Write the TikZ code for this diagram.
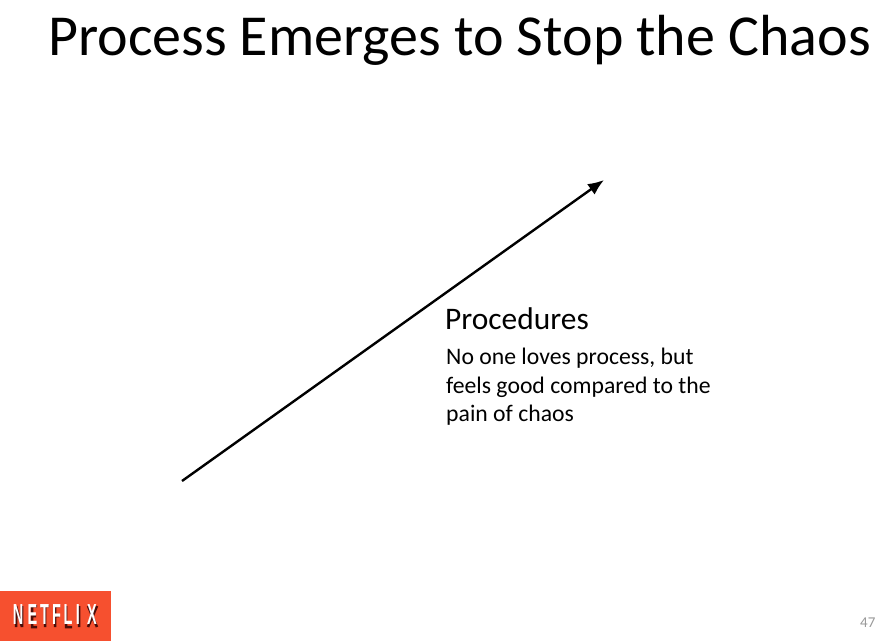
\documentclass[tikz,border=0pt]{standalone}
\usepackage{fontspec}
\setmainfont{Carlito}
\newfontfamily\logofont{Liberation Sans}
\usetikzlibrary{arrows.meta}
\definecolor{logored}{HTML}{F6502F}
\definecolor{logoshade}{HTML}{4A0E0A}
\begin{document}
\begin{tikzpicture}[x=1pt,y=-1pt,
                    main text/.style={anchor=west,inner sep=0pt,align=left},
                    logo letter/.style={inner sep=0pt,text=white,font=\logofont\bfseries\fontsize{29}{29}\selectfont}]
  \useasboundingbox (0,0) rectangle (889,641);
  \fill[white] (0,0) rectangle (889,641);

  \node[main text,font=\fontsize{58}{68}\selectfont] (title) at (48,40) {Process Emerges to Stop the Chaos};

  \coordinate (start) at (182,481);
  \coordinate (end) at (604,180);
  \draw[-{Latex[length=16pt,width=13pt]},line width=2.4pt] (start) -- (end);

  \node[main text,font=\fontsize{31.4}{36}\selectfont] (head) at (445,319) {Procedures};
  \node[main text,anchor=north west,font=\fontsize{23.7}{28.5}\selectfont] (body) at (446,348)
    {No one loves process, but\\feels good compared to the\\pain of chaos};

  \node[fill=logored,minimum width=111pt,minimum height=50pt,inner sep=0pt,anchor=north west] (logo) at (0,591) {};
  % shade of the logo letters
  \draw[logoshade,line width=2.5pt]
    (16,606) -- (16,627) (16,606) -- (22,627) (22,606) -- (22,627)
    (37,606) -- (32,606) -- (32,627) -- (37,627) (32,616) -- (36,616)
    (41,606) -- (49,606) (45,606) -- (45,627)
    (60,606) -- (55,606) -- (55,627) (55,616) -- (59,616)
    (66,606) -- (66,627) -- (72,627)
    (79,606) -- (79,627)
    (88,606) -- (97,627) (97,606) -- (88,627);
  \foreach \ltr/\xpos in {N/18,E/32.5,T/44.5,F/56.5,L/68,I/78,X/92}{
    \node[logo letter] (letter\ltr) at (\xpos,614.4) {\scalebox{0.5}[1]{\ltr}};
  }

  \node[main text,text=gray!80,font=\fontsize{15}{18}\selectfont] (page) at (860,623) {47};
\end{tikzpicture}
\end{document}
